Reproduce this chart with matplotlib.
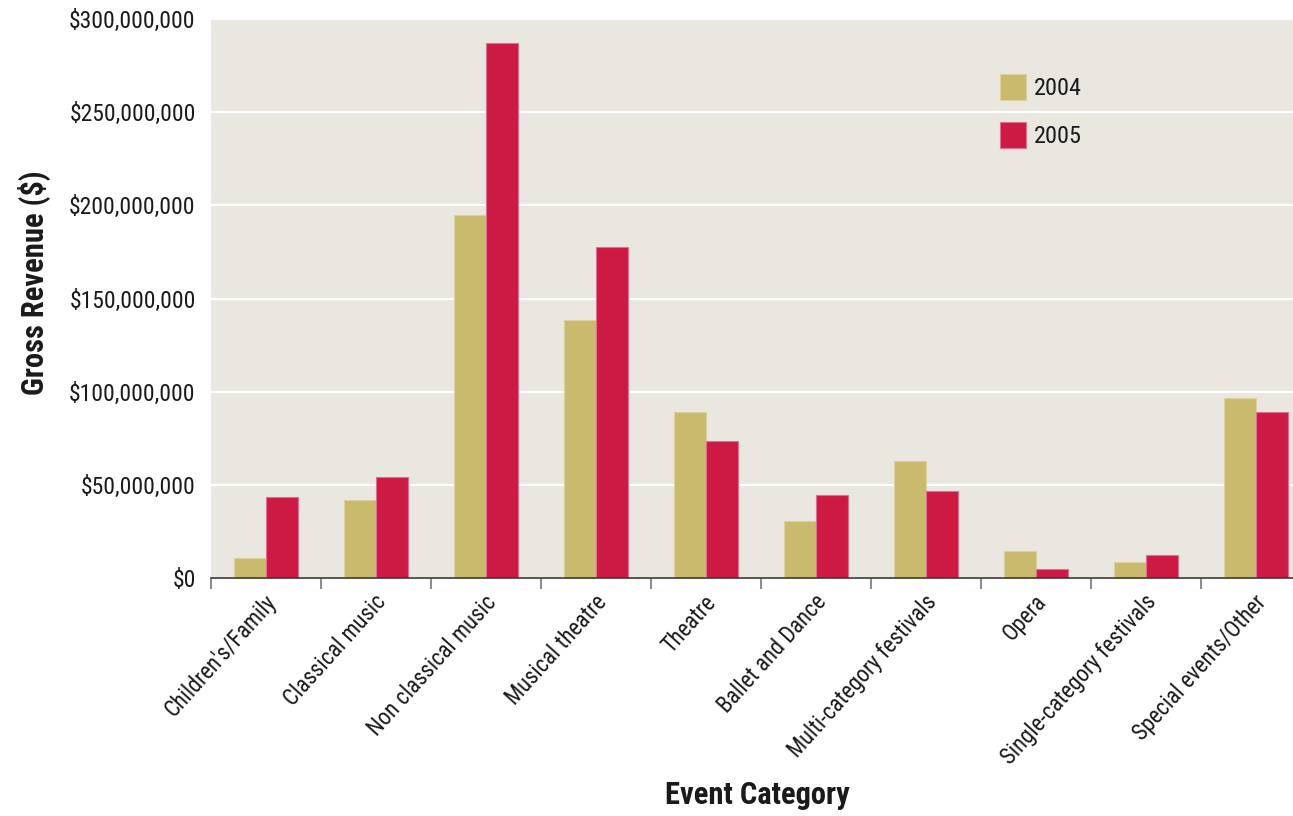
import matplotlib
matplotlib.use("Agg")
import matplotlib.pyplot as plt
import numpy as np
from matplotlib.transforms import ScaledTranslation
from matplotlib.ticker import FuncFormatter

categories = ["Children's/Family", "Classical music", "Non classical music",
              "Musical theatre", "Theatre", "Ballet and Dance",
              "Multi-category festivals", "Opera", "Single-category festivals",
              "Special events/Other"]
rev_2004 = [10.9, 41.9, 195.0, 138.5, 89.2, 30.7, 62.7, 14.8, 8.9, 96.6]   # $ millions
rev_2005 = [43.4, 54.4, 287.1, 177.8, 73.9, 44.5, 46.6, 5.1, 12.3, 89.2]  # $ millions
years = ["2004", "2005"]
y_ticks = [0, 50, 100, 150, 200, 250, 300]

plt.rcParams['font.family'] = ['Roboto Condensed', 'DejaVu Sans']

W, H = 1293, 816
fig = plt.figure(figsize=(W / 100, H / 100), dpi=100)
ax = fig.add_axes([211 / W, (H - 578.3) / H, 1100 / W, (578.3 - 19) / H])

c04 = '#C9BA6E'
c05 = '#CC1A45'
ax.set_facecolor('#EAE7E0')

x = np.arange(len(categories))
bw = 0.29
vals04 = np.array(rev_2004) * 1e6
vals05 = np.array(rev_2005) * 1e6
ax.bar(x - bw / 2, vals04, bw, color=c04, edgecolor='#DCD2A0', linewidth=0.8,
       label=years[0], zorder=3)
ax.bar(x + bw / 2, vals05, bw, color=c05, edgecolor='#E07090', linewidth=0.8,
       label=years[1], zorder=3)

ax.set_xlim(-0.5, len(categories) - 0.5)
ax.set_ylim(0, 300e6)
ax.set_yticks([v * 1e6 for v in y_ticks])
ax.yaxis.set_major_formatter(FuncFormatter(lambda v, p: "${:,.0f}".format(v)))
ax.grid(axis='y', color='white', linewidth=1.5, zorder=1)
ax.set_axisbelow(True)

for s in ['top', 'right', 'left']:
    ax.spines[s].set_visible(False)
ax.spines['bottom'].set_color('#3a3a3a')
ax.spines['bottom'].set_linewidth(1.2)
ax.spines['bottom'].set_zorder(4)

ax.tick_params(axis='y', length=0, pad=11, labelsize=17, labelcolor='#1a1a1a')

# boundary ticks (marks only), category labels at centers
ax.set_xticks(np.arange(len(categories) + 1) - 0.5)
ax.set_xticklabels([])
ax.tick_params(axis='x', which='major', length=8, width=1.2, color='#777777',
               direction='out')
ax.set_xticks(x, minor=True)
ax.set_xticklabels(categories, minor=True, rotation=48, ha='right', va='top',
                   rotation_mode='anchor', fontsize=16.3, color='#1a1a1a')
ax.tick_params(axis='x', which='minor', length=0, pad=9)
off = ScaledTranslation(-2 / 100, 0, fig.dpi_scale_trans)
for lbl in ax.get_xticklabels(minor=True):
    lbl.set_transform(lbl.get_transform() + off)

fig.text(34 / W, 1 - 283 / H, "Gross Revenue ($)", rotation=90, ha='center',
         va='center', fontsize=22, fontweight='bold', color='#1a1a1a')
fig.text(757 / W, 1 - 795 / H, "Event Category", ha='center', va='center',
         fontsize=22, fontweight='bold', color='#1a1a1a')

leg = ax.legend(loc='upper left', bbox_to_anchor=((1000 - 211) / 1100, 1 - (74 - 19) / (578.3 - 19)),
                frameon=False, fontsize=17.5, handlelength=1.08, handleheight=1.25,
                handletextpad=0.3, labelspacing=0.92, borderaxespad=0, borderpad=0)
for t in leg.get_texts():
    t.set_color('#1a1a1a')

fig.savefig("out.png", dpi=100)
